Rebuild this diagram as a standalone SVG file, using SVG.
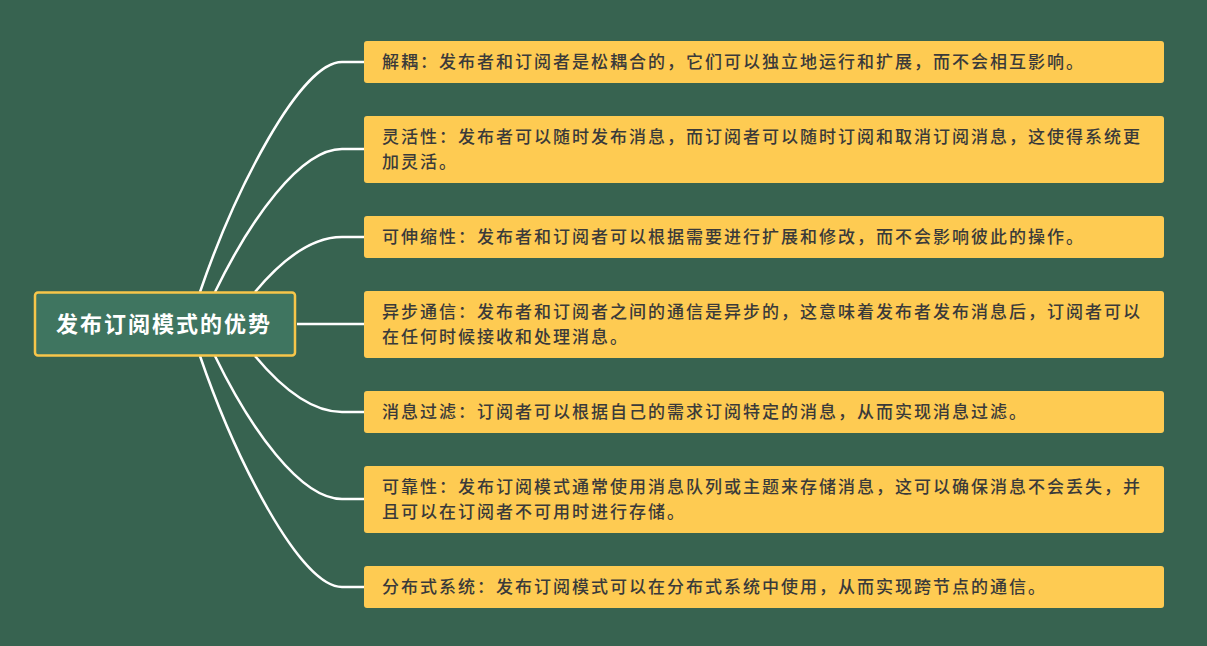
<svg xmlns="http://www.w3.org/2000/svg" width="1207" height="646" viewBox="0 0 1207 646">
<style>
.leaf rect{fill:#fecb52}
.leaf text{font-family:"Noto Sans CJK SC","Noto Sans",sans-serif;font-size:17px;letter-spacing:2px;fill:#3a3a3a;font-weight:500}
.c path{fill:none;stroke:#fff;stroke-width:2.5}
</style>
<rect width="1207" height="646" fill="#376350"/>
<g class="c">
<path d="M200,292 C235,190 300,62 342,62 L364,62"/>
<path d="M215,292 C250,220 300,149 342,149 L364,149"/>
<path d="M255,292 C280,262 310,237 342,237 L364,237"/>
<path d="M297,324 L364,324"/>
<path d="M255,356 C280,386 310,412 342,412 L364,412"/>
<path d="M215,356 C250,428 300,499 342,499 L364,499"/>
<path d="M200,356 C235,458 300,587 342,587 L364,587"/>
</g>
<g id="root">
<rect x="35" y="292.5" width="260" height="63" rx="3" fill="#3f7560" stroke="#f7c64a" stroke-width="2.5"/>
<text x="164" y="332" text-anchor="middle" font-family="Noto Sans CJK SC,sans-serif" font-size="22" letter-spacing="2" font-weight="bold" fill="#fff">发布订阅模式的优势</text>
</g>
<g id="n1" class="leaf"><rect x="364" y="41" width="800" height="42" rx="3"/><text x="382" y="68">解耦：发布者和订阅者是松耦合的，它们可以独立地运行和扩展，而不会相互影响。</text></g>
<g id="n2" class="leaf"><rect x="364" y="116" width="800" height="67" rx="3"/><text x="382" y="143">灵活性：发布者可以随时发布消息，而订阅者可以随时订阅和取消订阅消息，这使得系统更</text><text x="382" y="168">加灵活。</text></g>
<g id="n3" class="leaf"><rect x="364" y="216" width="800" height="42" rx="3"/><text x="382" y="243">可伸缩性：发布者和订阅者可以根据需要进行扩展和修改，而不会影响彼此的操作。</text></g>
<g id="n4" class="leaf"><rect x="364" y="291" width="800" height="67" rx="3"/><text x="382" y="318">异步通信：发布者和订阅者之间的通信是异步的，这意味着发布者发布消息后，订阅者可以</text><text x="382" y="343">在任何时候接收和处理消息。</text></g>
<g id="n5" class="leaf"><rect x="364" y="391" width="800" height="42" rx="3"/><text x="382" y="418">消息过滤：订阅者可以根据自己的需求订阅特定的消息，从而实现消息过滤。</text></g>
<g id="n6" class="leaf"><rect x="364" y="466" width="800" height="67" rx="3"/><text x="382" y="493">可靠性：发布订阅模式通常使用消息队列或主题来存储消息，这可以确保消息不会丢失，并</text><text x="382" y="518">且可以在订阅者不可用时进行存储。</text></g>
<g id="n7" class="leaf"><rect x="364" y="566" width="800" height="42" rx="3"/><text x="382" y="593">分布式系统：发布订阅模式可以在分布式系统中使用，从而实现跨节点的通信。</text></g>
</svg>
